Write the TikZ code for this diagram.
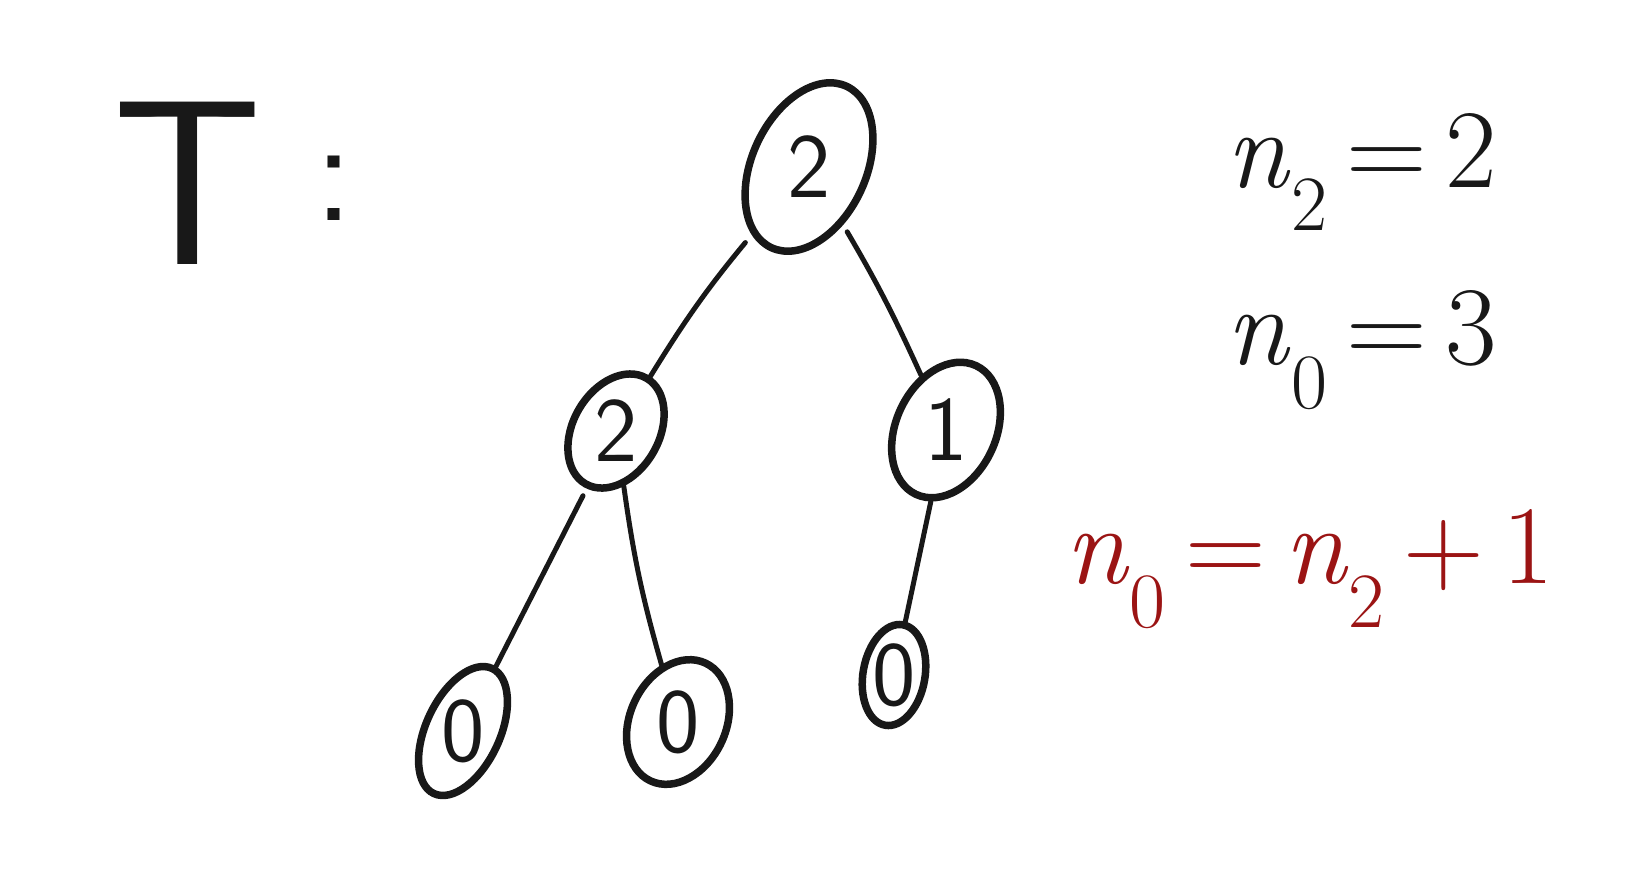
\documentclass[tikz,border=0pt]{standalone}
\usepackage{amsmath}
\usepackage{fontspec}
\usepackage{tikz}
\usepackage{xcolor}
\usetikzlibrary{shapes.geometric}
\newcommand{\nsub}[1]{\textit{n}\textsubscript{#1}}
\definecolor{ink}{RGB}{24,24,24}
\definecolor{inkred}{RGB}{155,20,20}

\begin{document}
\begin{tikzpicture}[
      x = 1pt, y = -1pt,
      every node/.style = {inner sep = 0pt, text = ink},
      vertex/.style = {draw = ink, ellipse, line width = 7.5pt},
      digit/.style = {font = \sffamily\fontsize{92}{100}\selectfont},
      formula/.style = {font = \fontsize{112}{120}\selectfont},
      edge/.style = {draw = ink, line width = 5pt, line cap = round}
      ]
      \useasboundingbox (0,0) rectangle (1637,887);
      \fill[white] (0,0) rectangle (1637,887);

      \node[font = \sffamily\fontsize{235}{240}\selectfont] (tname) at (188,183) {T};
      \node[font = \sffamily\fontsize{150}{150}\selectfont] (tcolon) at (334,188) {:};

      \node[vertex, minimum width = 114pt, minimum height = 178pt, rotate = -25] (root) at (809,167) {};
      \node[vertex, minimum width = 86pt, minimum height = 122pt, rotate = -30] (left) at (616,431) {};
      \node[vertex, minimum width = 100pt, minimum height = 142pt, rotate = -25] (right) at (946,430) {};
      \node[vertex, minimum width = 74pt, minimum height = 138pt, rotate = -25] (leafa) at (463,731) {};
      \node[vertex, minimum width = 96pt, minimum height = 130pt, rotate = -25] (leafb) at (678,722) {};
      \node[vertex, minimum width = 62pt, minimum height = 102pt, rotate = -10] (leafc) at (894,675) {};

      \node[digit] (root-d) at (root) {2};
      \node[digit] (left-d) at (left) {2};
      \node[digit] (right-d) at (right) {1};
      \node[digit] (leafa-d) at (leafa) {0};
      \node[digit] (leafb-d) at (leafb) {0};
      \node[digit] (leafc-d) at (leafc) {0};

      \draw[edge, shorten <= 10pt] (root) to[bend right = 4] (left);
      \draw[edge, shorten <= 8pt] (root) to[bend left = 3] (right);
      \draw[edge, shorten <= 8pt] (left) -- (leafa);
      \draw[edge] (left) to[bend right = 4] (leafb);
      \draw[edge] (right) -- (leafc);

      \node[formula] (ntwo) at (1362,172) {\nsub{2}\,=\,2};
      \node[formula] (nzero) at (1362,350) {\nsub{0}\,=\,3};
      \node[formula, text = inkred] (rule) at (1310,569) {\nsub{0}\,=\,\nsub{2}\,+\,1};
\end{tikzpicture}
\end{document}
